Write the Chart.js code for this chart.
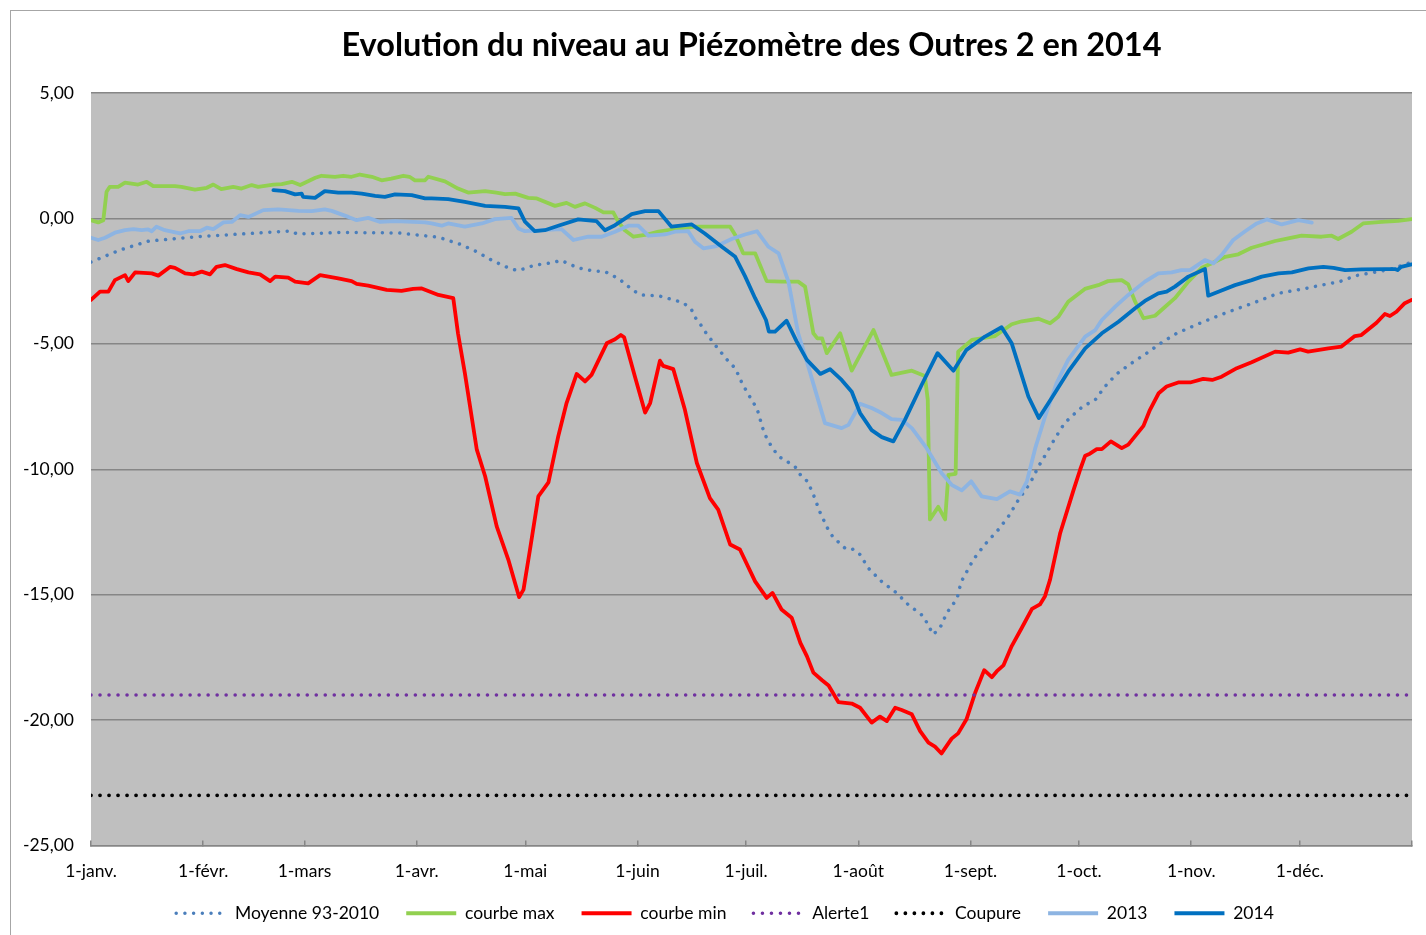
<!DOCTYPE html>
<html>
<head>
<meta charset="utf-8">
<script src="https://cdn.jsdelivr.net/npm/chart.js@4"></script>
<style>
  body { margin: 0; overflow: hidden; background: #fff; }
  #wrap { position: absolute; left: 0; top: 0; width: 1441px; height: 935px; }
</style>
</head>
<body>
<div id="wrap"><canvas id="myChart"></canvas></div>
<script>
// jours depuis le 1er janvier
const moisJours = [0, 31, 59, 90, 120, 151, 181, 212, 243, 273, 304, 334, 365];
const moisLabels = ['1-janv.', '1-févr.', '1-mars', '1-avr.', '1-mai', '1-juin', '1-juil.', '1-août', '1-sept.', '1-oct.', '1-nov.', '1-déc.', ''];

// [jour, niveau]
const moyenne = [[0,-1.74],[8,-1.26],[16,-0.9],[30,-0.72],[44,-0.6],[55,-0.5],[57,-0.62],[69,-0.56],[85,-0.58],[96,-0.75],
  [102,-1.03],[106.6,-1.33],[111,-1.69],[115.6,-1.99],[118,-2.08],[120,-1.99],[122.6,-1.86],[127.5,-1.77],[129.8,-1.67],[132,-1.81],
  [134.5,-1.97],[139,-2.1],[142,-2.12],[146,-2.42],[148,-2.66],[150,-2.89],[152,-3.05],[157,-3.09],[162,-3.29],[164,-3.4],
  [166,-3.66],[167,-3.96],[168.6,-4.27],[170,-4.58],[173,-5.15],[176,-5.68],[178,-5.97],[180,-6.6],[182.5,-7.23],[184,-7.57],
  [186,-8.56],[188,-9.09],[190,-9.49],[192,-9.66],[194.5,-9.89],[196,-10.22],[198,-10.49],[199.6,-11.01],[201.5,-11.74],[203.7,-12.41],
  [205,-12.7],[208.3,-13.14],[210,-13.14],[212.5,-13.4],[214.7,-13.93],[218.4,-14.47],[222.6,-14.93],[225.8,-15.4],[230,-15.86],[232.7,-16.59],
  [234.6,-16.32],[236.5,-15.72],[239.3,-15.16],[240.4,-14.5],[243.8,-13.6],[247,-13.0],[250.7,-12.41],[253.5,-11.88],[256.3,-11.21],[259.5,-10.55],
  [261.8,-9.89],[264,-9.36],[266.4,-8.76],[269,-8.16],[271.4,-7.83],[274,-7.5],[277.5,-7.23],[280,-6.73],[283.4,-6.2],[287.5,-5.77],
  [291.7,-5.37],[295.8,-4.95],[300,-4.58],[307,-4.14],[314,-3.74],[321,-3.38],[328,-2.99],[335,-2.81],[340,-2.66],[345,-2.52],
  [349.6,-2.28],[354.6,-2.15],[359,-2.03],[364,-1.79]];

const courbeMax = [[0,-0.07],[2,-0.16],[3.4,-0.07],[4.3,1.06],[5.2,1.26],[7.5,1.26],[9.4,1.43],[13,1.35],[15.4,1.46],[17.2,1.29],
  [23.2,1.29],[25,1.26],[28.7,1.15],[32,1.22],[33.8,1.35],[36,1.17],[39.3,1.26],[41.6,1.19],[44.4,1.33],[46.2,1.26],
  [50.4,1.35],[52.7,1.37],[55.5,1.46],[57.8,1.33],[62,1.62],[63.7,1.7],[67.4,1.66],[69.7,1.7],[72,1.66],[74.3,1.75],
  [77.6,1.66],[80.3,1.52],[83,1.59],[86.3,1.7],[88,1.66],[89.5,1.52],[92.3,1.52],[93.2,1.66],[97.8,1.48],[101.4,1.19],
  [104.2,1.03],[108.9,1.09],[112,1.03],[114.4,0.97],[117.2,0.99],[120.8,0.82],[123,0.8],[128.2,0.5],[131.4,0.62],[133.7,0.46],
  [136.5,0.6],[139.3,0.42],[141.6,0.24],[144.3,0.24],[145.7,-0.14],[147.5,-0.47],[149.9,-0.73],[153.1,-0.66],[156.8,-0.53],[161.4,-0.43],
  [167,-0.33],[172.4,-0.33],[176.6,-0.33],[178,-0.66],[180.2,-1.39],[183.5,-1.39],[186.7,-2.5],[190.8,-2.52],[195.4,-2.52],[197.3,-2.72],
  [199.6,-4.58],[200.7,-4.78],[202,-4.78],[203.3,-5.37],[207,-4.58],[210.2,-6.07],[216.2,-4.45],[221.2,-6.24],[226.8,-6.07],[230.4,-6.28],
  [231.2,-7.23],[231.8,-12.0],[234.1,-11.5],[236,-12.0],[236.9,-10.22],[238.9,-10.18],[239.6,-5.31],[243.4,-4.84],[249.8,-4.69],[254.4,-4.22],
  [257.2,-4.1],[261.8,-4.0],[265,-4.18],[267.3,-3.92],[270,-3.32],[274.6,-2.81],[278.3,-2.66],[281,-2.5],[284.8,-2.46],[286.6,-2.63],
  [288.5,-3.32],[290.8,-3.98],[294,-3.88],[296.8,-3.52],[299.5,-3.18],[303.2,-2.52],[306.9,-1.97],[309.7,-1.79],[313.4,-1.53],[317,-1.43],
  [320.7,-1.17],[327.2,-0.9],[330.8,-0.8],[334.5,-0.69],[340,-0.73],[342.8,-0.69],[344.6,-0.82],[348.3,-0.53],[351.5,-0.2],[356.6,-0.14],
  [361.2,-0.1],[364.9,-0.03]];

const courbeMin = [[0,-3.25],[2.5,-2.92],[4.8,-2.92],[6.6,-2.46],[9.4,-2.26],[10.3,-2.5],[12.2,-2.15],[16.8,-2.19],[18.6,-2.28],[21.9,-1.93],
  [23.2,-1.97],[26,-2.19],[28.3,-2.23],[30.6,-2.12],[32.9,-2.23],[34.7,-1.93],[37,-1.86],[40.3,-2.02],[43.5,-2.15],[46.7,-2.23],
  [49.5,-2.5],[50.9,-2.32],[54.5,-2.36],[56.4,-2.52],[60,-2.59],[63.3,-2.26],[68.3,-2.39],[72,-2.5],[73.4,-2.61],[76.6,-2.68],
  [81.7,-2.85],[85.8,-2.89],[89,-2.81],[91.4,-2.79],[96,-3.05],[100.1,-3.18],[101.4,-4.58],[103.3,-6.17],[106.6,-9.22],[108.9,-10.28],
  [112.1,-12.28],[115.3,-13.6],[118.3,-15.1],[119.5,-14.8],[121.3,-13.2],[123.6,-11.08],[126.4,-10.52],[129.1,-8.69],[131.4,-7.36],[134.2,-6.2],
  [136.5,-6.5],[138.3,-6.24],[142.5,-4.98],[144.8,-4.82],[146.4,-4.65],[147.3,-4.74],[150.3,-6.31],[153.1,-7.74],[154.5,-7.36],[157.2,-5.67],
  [158.1,-5.88],[160.9,-6.01],[164.1,-7.63],[167.4,-9.75],[171,-11.15],[173.3,-11.61],[176.6,-13.0],[179.3,-13.2],[183.5,-14.47],[186.7,-15.13],
  [188.3,-14.93],[190.8,-15.59],[193.6,-15.92],[196,-16.92],[197.8,-17.45],[199.6,-18.11],[202,-18.41],[203.8,-18.62],[206.5,-19.28],[210.2,-19.34],
  [212.5,-19.51],[215.7,-20.1],[218,-19.86],[219.9,-20.04],[222.2,-19.51],[224,-19.6],[226.8,-19.77],[229.1,-20.44],[231.4,-20.9],[233.2,-21.06],
  [235,-21.33],[237.8,-20.74],[239.6,-20.53],[241.9,-19.97],[244.3,-18.91],[246.8,-18.01],[248.9,-18.29],[250.3,-18.05],[252.1,-17.82],[254.4,-17.05],
  [257.2,-16.32],[260,-15.57],[262.2,-15.39],[263.6,-15.06],[265,-14.4],[267.8,-12.54],[271.5,-10.82],[273.3,-10.02],[274.7,-9.46],[276,-9.38],
  [277.9,-9.2],[279.3,-9.2],[281.8,-8.89],[284.8,-9.16],[286.6,-9.02],[290.8,-8.27],[292.6,-7.63],[295,-6.97],[297.2,-6.7],[300.4,-6.54],
  [303.7,-6.54],[307.3,-6.4],[309.8,-6.44],[312.4,-6.31],[316.6,-5.97],[320.7,-5.73],[327.2,-5.31],[330.8,-5.35],[334.1,-5.22],[336.3,-5.31],
  [341.9,-5.18],[345.5,-5.11],[349.2,-4.69],[351,-4.65],[355.2,-4.16],[357.5,-3.81],[358.9,-3.89],[360.7,-3.72],[363,-3.38],[364.9,-3.25]];

const alerte1 = [[0,-19],[365,-19]];
const coupure = [[0,-23],[365,-23]];

const niveau2013 = [[0,-0.77],[2,-0.86],[3.9,-0.77],[6.6,-0.57],[9.4,-0.47],[11.7,-0.43],[14,-0.47],[15.8,-0.44],[16.8,-0.51],[18.1,-0.33],
  [20.4,-0.47],[24.6,-0.6],[26.9,-0.51],[30.1,-0.51],[32,-0.37],[33.8,-0.43],[36.6,-0.16],[38.9,-0.14],[41.2,0.13],[43.5,0.06],
  [47.6,0.33],[51.8,0.36],[57.3,0.3],[61,0.29],[64.6,0.36],[66.5,0.3],[71.1,0.06],[73.4,-0.07],[76.6,0.02],[79.9,-0.14],
  [84,-0.11],[92.3,-0.16],[94.1,-0.2],[96.9,-0.29],[98.7,-0.2],[103.3,-0.33],[108,-0.2],[111.6,-0.03],[116.2,0.02],[118.1,-0.4],
  [119.9,-0.51],[124.5,-0.47],[130,-0.43],[133.3,-0.86],[137.4,-0.73],[141.1,-0.73],[144.8,-0.53],[148.5,-0.29],[151.2,-0.29],[154,-0.69],
  [158.6,-0.64],[161.4,-0.53],[165,-0.51],[166.9,-0.93],[169.2,-1.19],[172.9,-1.1],[177,-0.82],[180.7,-0.64],[184,-0.51],[187.2,-1.13],
  [190,-1.39],[192.7,-2.52],[195.4,-4.58],[198.2,-5.91],[202.8,-8.16],[207.4,-8.36],[209.3,-8.23],[212.5,-7.39],[215.7,-7.56],[218.5,-7.76],
  [221.2,-8.0],[224,-8.03],[226.8,-8.36],[230.9,-9.16],[235,-10.15],[237.8,-10.62],[240.6,-10.84],[243.2,-10.48],[246.1,-11.08],[250.3,-11.19],
  [253.9,-10.88],[256.7,-11.01],[258.6,-10.48],[260.9,-9.16],[263.6,-7.9],[266.8,-6.57],[270,-5.64],[274.7,-4.71],[277.5,-4.45],[279.3,-4.05],
  [283,-3.52],[286.6,-3.05],[291.2,-2.52],[294.9,-2.19],[298.6,-2.15],[301.3,-2.06],[303.7,-2.06],[307.8,-1.66],[310.1,-1.79],[312.4,-1.46],
  [315.6,-0.86],[318.9,-0.51],[322.1,-0.2],[324.9,-0.04],[329,-0.24],[333.6,-0.07],[337.3,-0.17]];

const niveau2014 = [[50.4,1.13],[53.6,1.09],[56.4,0.96],[58.2,0.99],[58.6,0.86],[61.9,0.82],[64.6,1.09],[68.3,1.03],[72,1.03],[74.8,0.99],
  [78.5,0.9],[81.2,0.86],[84,0.96],[88.6,0.93],[92.3,0.8],[94.1,0.8],[98.7,0.77],[103.3,0.66],[108.9,0.5],[114.4,0.46],
  [118.1,0.4],[119.9,-0.13],[122.6,-0.51],[125.4,-0.47],[129.1,-0.29],[134.6,-0.04],[139.7,-0.11],[142,-0.47],[144.8,-0.27],[149.4,0.17],
  [153.1,0.29],[156.8,0.29],[160.4,-0.33],[166,-0.24],[169.6,-0.6],[174.3,-1.13],[178,-1.53],[180.7,-2.3],[183.5,-3.18],[186.5,-4.05],
  [187.3,-4.51],[189,-4.51],[192.2,-4.08],[195,-4.91],[197.8,-5.64],[201.5,-6.2],[204.2,-6.01],[207.4,-6.44],[210.2,-6.91],[212.5,-7.76],
  [215.7,-8.44],[218.5,-8.72],[221.7,-8.89],[224.9,-8.03],[229.5,-6.64],[233.9,-5.37],[238.3,-6.07],[241.9,-5.24],[247,-4.71],[251.6,-4.34],
  [254.4,-4.98],[259,-7.1],[261.9,-7.96],[265.4,-7.17],[270,-6.11],[274.7,-5.18],[279.3,-4.58],[283.9,-4.12],[288.5,-3.58],[291.2,-3.29],
  [294.9,-2.99],[297.2,-2.92],[299.5,-2.72],[303.2,-2.32],[307.8,-2.02],[308.7,-3.08],[311.5,-2.92],[316.1,-2.66],[320.7,-2.46],[323.5,-2.32],
  [328.1,-2.19],[331.8,-2.15],[336.4,-1.99],[340.5,-1.93],[343.3,-1.97],[346.5,-2.06],[351.1,-2.03],[357.5,-2.02],[360.3,-2.02],[361,-2.06],
  [362,-1.93],[364.9,-1.83]];

const pts = arr => arr.map(p => ({ x: p[0], y: p[1] }));
const fontFam = 'Lato, "DejaVu Sans", sans-serif';

// cadre gris + fond gris de la zone de tracé
const cadre = {
  id: 'cadre',
  beforeDraw(chart) {
    const c = chart.ctx, a = chart.chartArea;
    c.save();
    c.fillStyle = '#fff';
    c.fillRect(0, 0, chart.width, chart.height);
    c.strokeStyle = '#a6a6a6';
    c.lineWidth = 1;
    c.strokeRect(10.5, 10.5, chart.width + 20, chart.height + 20);
    c.fillStyle = '#bfbfbf';
    c.fillRect(a.left, a.top, a.right - a.left, a.bottom - a.top);
    c.restore();
  }
};

// la légende remonte un peu sous les étiquettes de l'axe x
const decalLegende = {
  id: 'decalLegende',
  afterLayout(chart) {
    const l = chart.legend;
    l.top -= 10; l.bottom -= 10;
    l.left += 14; l.right += 14;
  }
};

const ligne = (label, data, color, order) => ({
  label, data: pts(data), borderColor: color, backgroundColor: color,
  borderWidth: 3.8, pointRadius: 0, tension: 0, order,
  borderJoinStyle: 'round', borderCapStyle: 'round'
});
const pointille = (label, data, color, order, w, gap) => ({
  label, data: pts(data), borderColor: color, backgroundColor: color,
  borderWidth: w, pointRadius: 0, tension: 0, order,
  borderDash: [0.01, gap], borderCapStyle: 'round'
});

const ctx = document.getElementById('myChart');

new Chart(ctx, {
  type: 'line',
  data: {
    datasets: [
      pointille('Moyenne 93-2010', moyenne, '#4a7ebb', 7, 3.5, 8.7),
      ligne('courbe max', courbeMax, '#92d050', 6),
      ligne('courbe min', courbeMin, '#ff0000', 5),
      pointille('Alerte1', alerte1, '#7030a0', 4, 3.6, 9),
      pointille('Coupure', coupure, '#000000', 3, 3.8, 9),
      ligne('2013', niveau2013, '#8db4e2', 2),
      ligne('2014', niveau2014, '#0070c0', 1)
    ]
  },
  options: {
    responsive: true,
    maintainAspectRatio: false,
    animation: false,
    layout: { padding: { left: 10, top: 10, right: 29, bottom: -7 } },
    plugins: {
      title: {
        display: true,
        text: 'Evolution du niveau au Piézomètre des Outres 2 en 2014',
        fullSize: false,
        color: '#000',
        font: { family: fontFam, size: 32.5, weight: 'bold' },
        padding: { top: 16, bottom: 28 }
      },
      legend: {
        position: 'bottom',
        labels: {
          usePointStyle: true,
          pointStyle: 'line',
          pointStyleWidth: 50,
          boxWidth: 50,
          boxHeight: 17,
          padding: 27,
          color: '#000',
          font: { family: fontFam, size: 17.5 },
          sort: (a, b) => a.datasetIndex - b.datasetIndex,
          generateLabels: chart => Chart.defaults.plugins.legend.labels.generateLabels(chart).map(item => {
            const ds = chart.data.datasets[item.datasetIndex];
            item.strokeStyle = ds.borderColor;
            item.lineWidth = ds.borderWidth;
            item.lineDash = ds.borderDash || [];
            item.lineCap = ds.borderDash ? 'round' : 'butt';
            return item;
          })
        }
      },
      tooltip: { enabled: false }
    },
    scales: {
      x: {
        type: 'linear',
        min: 0,
        max: 365,
        afterBuildTicks: s => { s.ticks = moisJours.map(v => ({ value: v })); },
        afterFit: s => { s.height = 42; },
        ticks: {
          autoSkip: false,
          maxRotation: 0,
          padding: 20,
          color: '#000',
          font: { family: fontFam, size: 17.5 },
          callback: (v, i) => moisLabels[i]
        },
        grid: { drawOnChartArea: false, drawTicks: true, tickLength: -5, color: '#868686', lineWidth: 1.5 },
        border: { display: true, color: '#868686', width: 1.5 }
      },
      y: {
        min: -25,
        max: 5,
        afterFit: s => { s.width = 81; },
        ticks: {
          stepSize: 5,
          padding: 17,
          color: '#000',
          font: { family: fontFam, size: 17.5 },
          callback: v => v.toFixed(2).replace('.', ',')
        },
        grid: { color: '#868686', lineWidth: 1.5, drawTicks: false },
        border: { display: false }
      }
    }
  },
  plugins: [cadre, decalLegende]
});
</script>
</body>
</html>
